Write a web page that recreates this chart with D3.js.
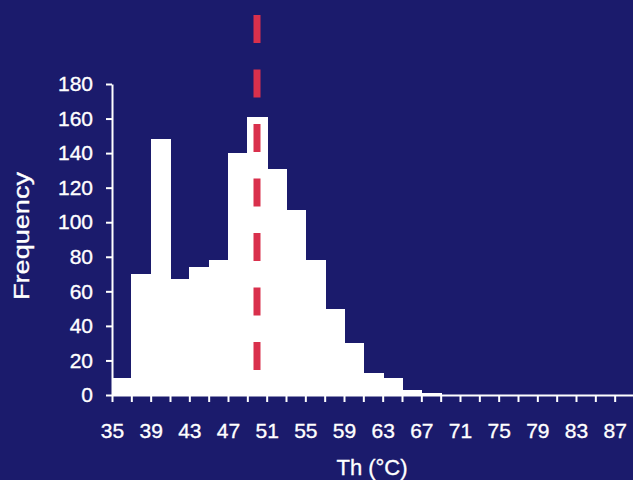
<!DOCTYPE html>
<html lang="en">
<head>
    <meta charset="UTF-8">
    <title>Th histogram</title>
    <script src="https://cdn.jsdelivr.net/npm/d3@7"></script>
    <style>
        body { margin: 0; background: #1b1b6c; }
        .axis text { font-family: "Liberation Sans", Arial, sans-serif; fill: #fff; stroke: #fff; stroke-width: 0.35px; }
        .axis path, .axis line { stroke: #fff; stroke-width: 2; }
        .bar { shape-rendering: crispEdges; }
    </style>
</head>
<body>
    <script>
        const width = 633;
        const height = 480;

        // histogram bins (2 degree wide), left edge of each bin
        const binStarts = [35, 37, 39, 41, 43, 45, 47, 49, 51, 53, 55, 57, 59, 61, 63, 65, 67];
        const frequency = [10, 70, 148, 67, 74, 78, 140, 161, 131, 107, 78, 50, 30, 13, 10, 3, 1];
        const binWidth = 2;

        const xTickValues = [35, 37, 39, 41, 43, 45, 47, 49, 51, 53, 55, 57, 59, 61, 63, 65, 67, 69, 71, 73, 75, 77, 79, 81, 83, 85, 87, 89];
        const xTickLabels = [35, 39, 43, 47, 51, 55, 59, 63, 67, 71, 75, 79, 83, 87];
        const yTickValues = [0, 20, 40, 60, 80, 100, 120, 140, 160, 180];

        // mean homogenisation temperature marker
        const markerTh = 50;
        const markerTop = 220;

        const x = d3.scaleLinear().domain([35, 89]).range([112, 634]);
        const y = d3.scaleLinear().domain([0, 180]).range([395, 84]);

        const svg = d3.select("body").append("svg")
            .attr("width", width)
            .attr("height", height);

        svg.append("rect")
            .attr("width", width)
            .attr("height", height)
            .attr("fill", "#1b1b6c");

        const bins = binStarts.map((b, i) => ({ start: b, value: frequency[i] }));

        svg.selectAll(".bar")
            .data(bins)
            .enter().append("rect")
            .attr("class", "bar")
            .attr("x", d => x(d.start))
            .attr("width", d => x(d.start + binWidth) - x(d.start) + 1)
            .attr("y", d => y(d.value))
            .attr("height", d => y(0) - y(d.value))
            .attr("fill", "#ffffff");

        // dashed red line
        svg.append("line")
            .attr("x1", x(markerTh))
            .attr("x2", x(markerTh))
            .attr("y1", y(markerTop))
            .attr("y2", y(0))
            .attr("stroke", "#d9304c")
            .attr("stroke-width", 7)
            .attr("stroke-dasharray", "28,26.5");

        const xAxis = svg.append("g")
            .attr("class", "axis")
            .attr("transform", `translate(0,${y(0)})`)
            .call(d3.axisBottom(x)
                .tickValues(xTickValues)
                .tickSize(7)
                .tickSizeOuter(0)
                .tickPadding(21)
                .tickFormat(d => xTickLabels.includes(d) ? d : ""));
        xAxis.selectAll("text").style("font-size", "21px");

        const yAxis = svg.append("g")
            .attr("class", "axis")
            .attr("transform", `translate(${x(35)},0)`)
            .call(d3.axisLeft(y)
                .tickValues(yTickValues)
                .tickSize(6)
                .tickSizeOuter(0)
                .tickPadding(13));
        yAxis.selectAll("text").style("font-size", "21px");

        svg.append("text")
            .attr("transform", "translate(29,236) rotate(-90)")
            .attr("text-anchor", "middle")
            .attr("textLength", 128)
            .attr("lengthAdjust", "spacingAndGlyphs")
            .style("font-family", "Liberation Sans, Arial, sans-serif")
            .style("font-size", "22px")
            .attr("fill", "#fff")
            .attr("stroke", "#fff")
            .attr("stroke-width", 0.35)
            .text("Frequency");

        svg.append("text")
            .attr("x", 372)
            .attr("y", 475)
            .attr("text-anchor", "middle")
            .style("font-family", "Liberation Sans, Arial, sans-serif")
            .style("font-size", "22px")
            .attr("fill", "#fff")
            .attr("stroke", "#fff")
            .attr("stroke-width", 0.35)
            .text("Th (°C)");
    </script>
</body>
</html>
